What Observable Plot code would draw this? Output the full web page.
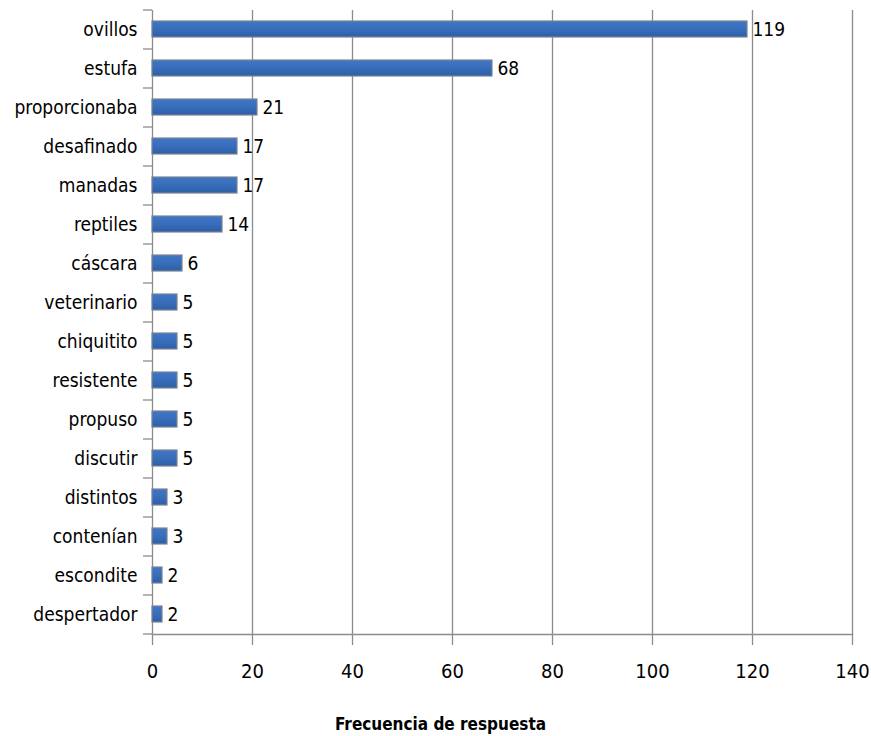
<!DOCTYPE html>
<html>
<head>
<meta charset="utf-8">
<script src="https://cdn.jsdelivr.net/npm/d3@7"></script>
<script src="https://cdn.jsdelivr.net/npm/@observablehq/plot@0.6"></script>
<style>
  html, body { margin: 0; padding: 0; background: #fff; }
  svg text { font-family: "DejaVu Sans Condensed", "DejaVu Sans", sans-serif; font-stretch: condensed; }
</style>
</head>
<body>
<div id="chart"></div>
<script>
// Word list and response counts, top to bottom
const palabras = ["ovillos", "estufa", "proporcionaba", "desafinado", "manadas", "reptiles",
  "cáscara", "veterinario", "chiquitito", "resistente", "propuso", "discutir",
  "distintos", "contenían", "escondite", "despertador"];
const frecuencias = [119, 68, 21, 17, 17, 14, 6, 5, 5, 5, 5, 5, 3, 3, 2, 2];
const xTicks = [0, 20, 40, 60, 80, 100, 120, 140];
const tituloX = "Frecuencia de respuesta";

const data = palabras.map((p, i) => ({palabra: p, n: frecuencias[i]}));
const ultima = palabras[palabras.length - 1];
const grid = "#8c8c8c";

const chart = Plot.plot({
  width: 871,
  height: 736,
  marginLeft: 152,
  marginRight: 19,
  marginTop: 10,
  marginBottom: 102,
  style: {fontSize: "19px", color: "#000", background: "#fff"},
  x: {domain: [0, 140], ticks: xTicks},
  y: {domain: palabras, paddingInner: 0.58, paddingOuter: 0.29},
  marks: [
    Plot.gridX(xTicks, {stroke: grid, strokeOpacity: 1, strokeWidth: 1.3}),
    Plot.frame({anchor: "bottom", stroke: grid, strokeWidth: 1.3}),
    // x axis: tick marks below the baseline and labels
    Plot.axisX(xTicks, {tickSize: 11, stroke: grid, strokeWidth: 1.3, tickPadding: 18,
      fontSize: 20, label: null}),
    // y axis labels
    Plot.axisY({tickSize: 0, tickPadding: 15, fontSize: 19, label: null}),
    // y tick marks at the band boundaries
    Plot.axisY({tickSize: 9, text: null, dy: -19.5, stroke: grid, strokeWidth: 1.3, label: null}),
    Plot.axisY([ultima], {tickSize: 9, text: null, dy: 19.5, stroke: grid, strokeWidth: 1.3, label: null}),
    Plot.barX(data, {x: "n", y: "palabra", fill: "url(#barGrad)", stroke: "#7b8494", strokeWidth: 1.2}),
    Plot.text(data, {x: "n", y: "palabra", text: d => String(d.n), textAnchor: "start",
      dx: 5, fontSize: 19, fill: "#000"}),
    // axis title, set left of the plot's centre near the bottom edge
    Plot.text([tituloX], {frameAnchor: "bottom", dx: -62, dy: 90, fontWeight: "bold", fontSize: 17,
      fill: "#000", lineAnchor: "middle"})
  ]
});

// Vertical blue gradient used by the bars
const defs = d3.create("svg:defs");
const grad = defs.append("linearGradient").attr("id", "barGrad")
  .attr("x1", 0).attr("y1", 0).attr("x2", 0).attr("y2", 1);
grad.append("stop").attr("offset", "0%").attr("stop-color", "#3f77c6");
grad.append("stop").attr("offset", "50%").attr("stop-color", "#386dba");
grad.append("stop").attr("offset", "100%").attr("stop-color", "#2e5fa6");
chart.insertBefore(defs.node(), chart.firstChild);

document.getElementById("chart").appendChild(chart);
</script>
</body>
</html>
